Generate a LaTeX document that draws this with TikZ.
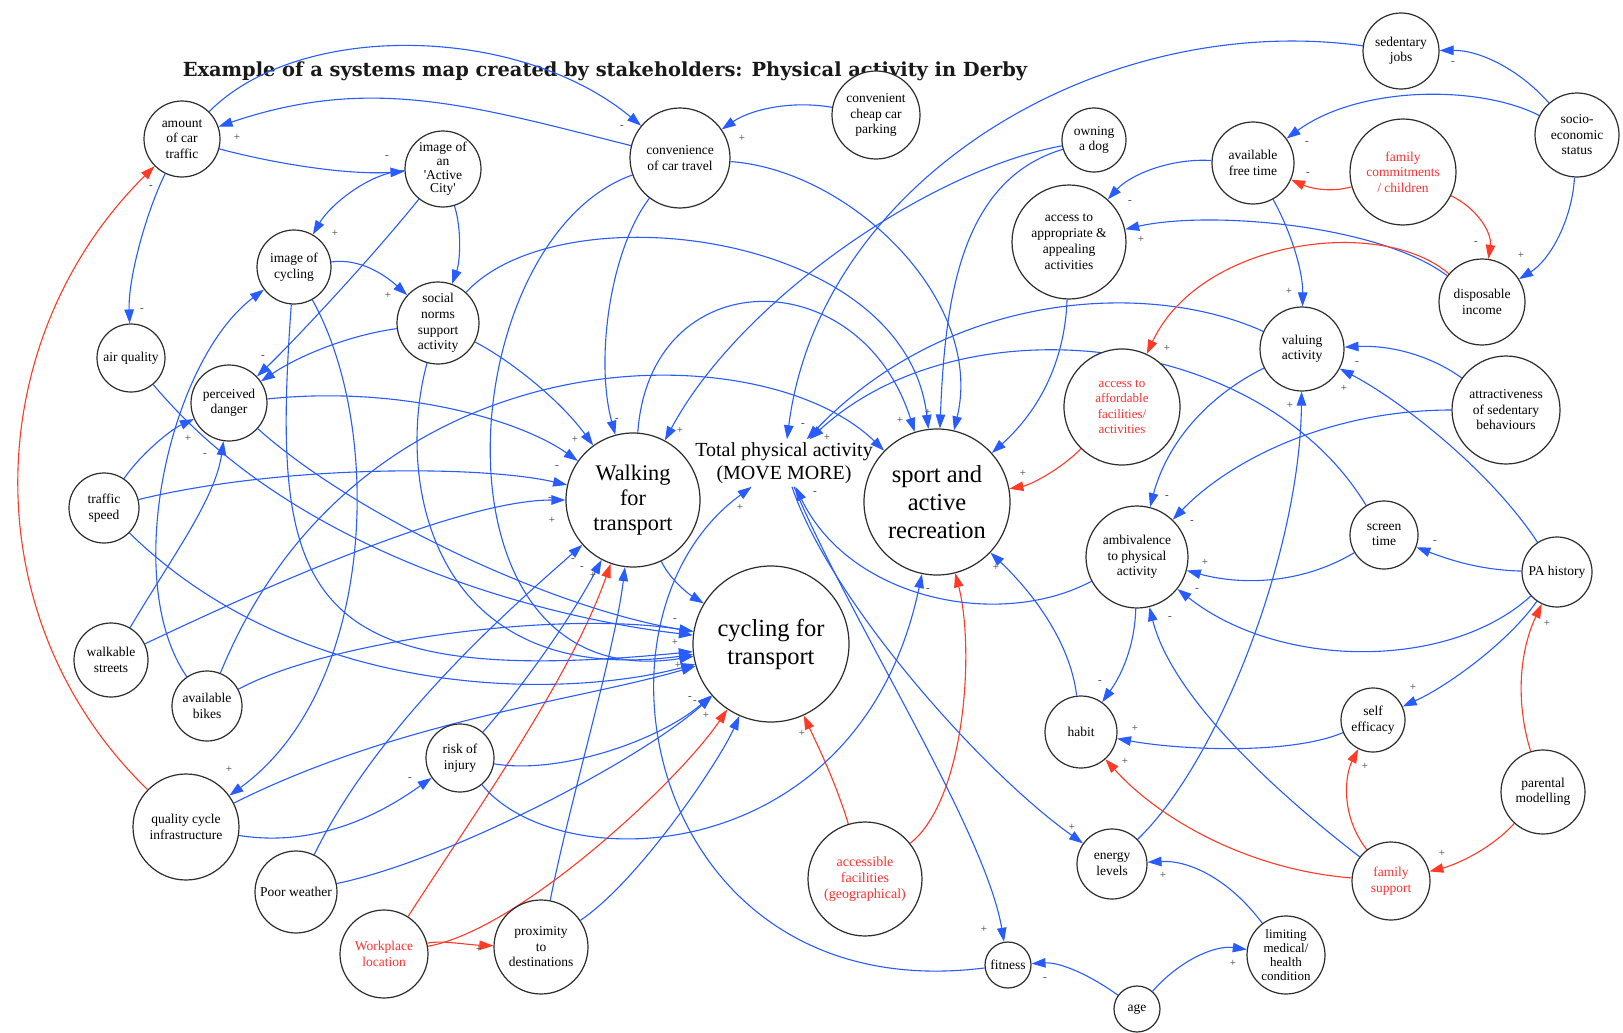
\documentclass[tikz,border=0pt]{standalone}
\usepackage{fontspec}
\setmainfont{Liberation Serif}
\newfontfamily\ttlfont{DejaVu Serif}
\usetikzlibrary{arrows.meta}
\definecolor{lnblue}{RGB}{40,92,255}
\definecolor{lnred}{RGB}{255,58,38}
\definecolor{txred}{RGB}{255,48,48}
\definecolor{ring}{RGB}{45,45,45}
\definecolor{labgray}{RGB}{60,60,60}
\pgfdeclarelayer{back}
\pgfdeclarelayer{links}
\pgfsetlayers{back,links,main}
\begin{document}
\begin{tikzpicture}[x=1pt,y=-1pt,
  cn/.style={circle,draw=ring,line width=1.2pt,fill=white,align=center,inner sep=0pt,
    minimum size=#1pt,font=\fontsize{13.5}{15.5}\selectfont},
  bigtxt/.style={font=\fontsize{24.5}{28}\selectfont},
  total/.style={align=center,inner sep=3pt,font=\fontsize{20}{23}\selectfont},
  eb/.style={draw=lnblue,line width=1.1pt,-{Triangle[length=14pt,width=9.5pt]}},
  er/.style={draw=lnred,line width=1.1pt,-{Triangle[length=14pt,width=9.5pt]}},
  lb/.style={font=\fontsize{11}{11}\selectfont,text=labgray,inner sep=0pt}]
\useasboundingbox (0,0) rectangle (1623,1033);

\begin{pgfonlayer}{back}
\fill[white] (0,0) rectangle (1623,1033);
\node[font=\ttlfont\fontsize{19.4}{24}\selectfont\bfseries,text={rgb,255:red,25;green,25;blue,25}] (title) at (605,71)
  {Example of a systems map created by stakeholders: Physical activity in Derby};
\end{pgfonlayer}

% ---------- variables ----------
\node[cn=76] (amount) at (182,139) {amount\\of car\\traffic};
\node[cn=76,font=\fontsize{13.5}{13.7}\selectfont] (active) at (443,169) {image of\\an\\{\textquotesingle}Active\\City{\textquotesingle}};
\node[cn=100] (conv) at (680,158) {convenience\\of car travel};
\node[cn=88] (parking) at (876,115) {convenient\\cheap car\\parking};
\node[cn=64] (dog) at (1094,140) {owning\\a dog};
\node[cn=114,font=\fontsize{13.5}{15.9}\selectfont] (access) at (1069,242) {access to\\appropriate \&\\appealing\\activities};
\node[cn=76] (sedjobs) at (1401,51) {sedentary\\jobs};
\node[cn=84] (socio) at (1577,135) {socio-\\economic\\status};
\node[cn=82] (freetime) at (1253,163) {available\\free time};
\node[cn=106,text=txred] (famcom) at (1403,172) {family\\commitments\\/ children};
\node[cn=86] (income) at (1482,302) {disposable\\income};
\node[cn=84] (valuing) at (1302,349) {valuing\\activity};
\node[cn=108] (attract) at (1506,410) {attractiveness\\of sedentary\\behaviours};
\node[cn=68] (screen) at (1384,535) {screen\\time};
\node[cn=70] (pahist) at (1557,572) {PA history};
\node[cn=146,bigtxt] (sport) at (937,502) {sport and\\active\\recreation};
\node[cn=116,text=txred,font=\fontsize{13}{15.5}\selectfont] (afford) at (1122,407) {access to\\affordable\\facilities/\\activities};
\node[cn=102] (ambiv) at (1137,557) {ambivalence\\to physical\\activity};
\node[cn=134,font=\fontsize{22.3}{25}\selectfont] (walk) at (633,500) {Walking\\for\\transport};
\node[cn=156,bigtxt] (cycle) at (771,644) {cycling for\\transport};
\node[total] (tpa) at (784,463) {Total physical activity\\(MOVE MORE)};
\node[cn=74] (imgcyc) at (294,267) {image of\\cycling};
\node[cn=68] (air) at (131,358) {air quality};
\node[cn=82,font=\fontsize{13.5}{15.8}\selectfont] (social) at (438,323) {social\\norms\\support\\activity};
\node[cn=76] (danger) at (229,403) {perceived\\danger};
\node[cn=70] (tspeed) at (104,508) {traffic\\speed};
\node[cn=74] (walkable) at (111,660) {walkable\\streets};
\node[cn=70] (bikes) at (207,706) {available\\bikes};
\node[cn=106] (qci) at (186,827) {quality cycle\\infrastructure};
\node[cn=82] (weather) at (296,892) {Poor weather};
\node[cn=88,text=txred] (workplace) at (384,954) {Workplace\\location};
\node[cn=68] (risk) at (460,758) {risk of\\injury};
\node[cn=94] (proximity) at (541,947) {proximity\\to\\destinations};
\node[cn=114,text=txred,font=\fontsize{14}{16}\selectfont] (accfac) at (865,879) {accessible\\facilities\\(geographical)};
\node[cn=72] (habit) at (1081,732) {habit};
\node[cn=70] (energy) at (1112,864) {energy\\levels};
\node[cn=46] (fitness) at (1008,965) {fitness};
\node[cn=46] (age) at (1137,1009) {age};
\node[cn=64] (selfeff) at (1373,720) {self\\efficacy};
\node[cn=84] (parental) at (1543,792) {parental\\modelling};
\node[cn=78,text=txred] (famsup) at (1391,881) {family\\support};
\node[cn=78,font=\fontsize{13}{14.3}\selectfont] (limiting) at (1286,955) {limiting\\medical/\\health\\condition};

% ---------- causal links ----------
\begin{pgfonlayer}{links}
% car traffic cluster
\draw[eb] (amount) .. controls (300,20) and (520,25) .. (conv);
\draw[eb] (conv) .. controls (470,105) and (370,75) .. (amount);
\draw[eb] (amount) .. controls (280,165) and (350,175) .. (active);
\draw[eb] (amount) .. controls (145,215) and (128,280) .. (air);
\draw[er] (qci) .. controls (-30,617) and (-20,339) .. (amount);
\draw[eb] (parking) .. controls (790,100) and (750,110) .. (conv);
% image / norms
\draw[eb] (active) .. controls (370,172) and (330,205) .. (imgcyc);
\draw[eb] (active) .. controls (462,230) and (460,262) .. (social);
\draw[eb] (active) .. controls (370,260) and (290,345) .. (danger);
\draw[eb] (social) .. controls (350,335) and (300,355) .. (danger);
\draw[eb] (imgcyc) .. controls (360,258) and (385,275) .. (social);
\draw[eb] (bikes) .. controls (120,580) and (170,360) .. (imgcyc);
\draw[eb] (imgcyc) .. controls (385,430) and (375,690) .. (qci);
\draw[eb] (tspeed) .. controls (140,455) and (170,430) .. (danger);
\draw[eb] (walkable) .. controls (170,560) and (215,500) .. (danger);
\draw[eb] (qci) .. controls (330,850) and (400,800) .. (risk);
% into walking for transport
\draw[eb] (social) .. controls (510,360) and (560,400) .. (walk);
\draw[eb] (conv) .. controls (610,250) and (595,360) .. (walk);
\draw[eb] (dog) .. controls (930,170) and (740,300) .. (walk);
\draw[eb] (danger) .. controls (400,385) and (520,420) .. (walk);
\draw[eb] (tspeed) .. controls (280,465) and (480,465) .. (walk);
\draw[eb] (walkable) .. controls (300,570) and (470,500) .. (walk);
\draw[eb] (weather) .. controls (380,720) and (520,600) .. (walk);
\draw[eb] (risk) .. controls (520,690) and (570,620) .. (walk);
\draw[er] (workplace) .. controls (470,820) and (570,680) .. (walk);
\draw[eb] (proximity) .. controls (570,800) and (615,650) .. (walk);
% into cycling for transport
\draw[eb] (walk) .. controls (670,580) and (690,595) .. (cycle);
\draw[eb] (air) .. controls (300,560) and (560,620) .. (cycle);
\draw[eb] (danger) .. controls (360,520) and (560,610) .. (cycle);
\draw[eb] (tspeed) .. controls (300,700) and (560,700) .. (cycle);
\draw[eb] (bikes) .. controls (330,640) and (560,610) .. (cycle);
\draw[eb] (imgcyc) .. controls (270,600) and (300,690) .. (cycle);
\draw[eb] (social) .. controls (395,480) and (430,690) .. (cycle);
\draw[eb] (conv) .. controls (450,240) and (420,700) .. (cycle);
\draw[eb] (qci) .. controls (400,720) and (580,700) .. (cycle);
\draw[eb] (risk) .. controls (560,775) and (660,740) .. (cycle);
\draw[eb] (weather) .. controls (450,860) and (640,760) .. (cycle);
\draw[er] (workplace) .. controls (520,930) and (680,780) .. (cycle);
\draw[er] (workplace) .. controls (440,940) and (470,945) .. (proximity);
\draw[eb] (proximity) .. controls (640,880) and (720,760) .. (cycle);
\draw[er] (accfac) .. controls (835,780) and (815,740) .. (cycle);
% into sport and active recreation
\draw[eb] (walk) .. controls (650,260) and (860,260) .. (sport);
\draw[eb] (social) .. controls (560,190) and (905,230) .. (sport);
\draw[eb] (dog) .. controls (960,180) and (945,300) .. (sport);
\draw[eb] (conv) .. controls (850,170) and (985,300) .. (sport);
\draw[eb] (bikes) .. controls (360,330) and (760,330) .. (sport);
\draw[eb] (access) .. controls (1065,360) and (1040,410) .. (sport);
\draw[er] (afford) .. controls (1060,470) and (1030,485) .. (sport);
\draw[eb] (habit) .. controls (1070,640) and (1030,590) .. (sport);
\draw[er] (accfac) .. controls (965,800) and (975,650) .. (sport);
\draw[eb] (risk) .. controls (560,880) and (860,870) .. (sport);
% total physical activity
\draw[eb] (sedjobs) .. controls (1100,10) and (820,180) .. (tpa);
\draw[eb] (valuing) .. controls (1150,280) and (950,290) .. (tpa);
\draw[eb] (screen) .. controls (1260,330) and (960,300) .. (tpa);
\draw[eb] (ambiv) .. controls (1000,630) and (850,600) .. (tpa);
\draw[eb] (fitness) .. controls (650,1010) and (570,620) .. (tpa);
\draw[eb] (tpa) .. controls (830,600) and (980,770) .. (energy);
\draw[eb] (tpa) .. controls (850,620) and (985,830) .. (fitness);
% right-hand cluster
\draw[eb] (socio) .. controls (1520,70) and (1480,50) .. (sedjobs);
\draw[eb] (socio) .. controls (1480,85) and (1360,85) .. (freetime);
\draw[er] (famcom) .. controls (1330,193) and (1310,188) .. (freetime);
\draw[er] (famcom) .. controls (1480,210) and (1492,235) .. (income);
\draw[eb] (socio) .. controls (1572,220) and (1550,260) .. (income);
\draw[eb] (freetime) .. controls (1290,230) and (1303,270) .. (valuing);
\draw[eb] (freetime) .. controls (1170,158) and (1130,175) .. (access);
\draw[eb] (income) .. controls (1380,225) and (1210,210) .. (access);
\draw[er] (income) .. controls (1380,215) and (1200,240) .. (afford);
\draw[eb] (attract) .. controls (1430,355) and (1390,345) .. (valuing);
\draw[eb] (attract) .. controls (1330,410) and (1230,460) .. (ambiv);
\draw[eb] (pahist) .. controls (1490,470) and (1400,400) .. (valuing);
\draw[eb] (pahist) .. controls (1480,570) and (1450,560) .. (screen);
\draw[eb] (pahist) .. controls (1450,670) and (1280,670) .. (ambiv);
\draw[eb] (pahist) .. controls (1510,640) and (1450,685) .. (selfeff);
\draw[eb] (screen) .. controls (1300,585) and (1240,585) .. (ambiv);
\draw[eb] (valuing) .. controls (1200,400) and (1165,450) .. (ambiv);
\draw[eb] (energy) .. controls (1220,760) and (1300,550) .. (valuing);
\draw[eb] (ambiv) .. controls (1135,640) and (1125,670) .. (habit);
\draw[eb] (selfeff) .. controls (1290,755) and (1180,750) .. (habit);
\draw[er] (famsup) .. controls (1250,870) and (1160,820) .. (habit);
\draw[eb] (famsup) .. controls (1260,780) and (1170,690) .. (ambiv);
\draw[er] (famsup) .. controls (1340,815) and (1345,775) .. (selfeff);
\draw[er] (parental) .. controls (1490,850) and (1455,865) .. (famsup);
\draw[er] (parental) .. controls (1515,700) and (1520,650) .. (pahist);
\draw[eb] (limiting) .. controls (1230,880) and (1190,860) .. (energy);
\draw[eb] (age) .. controls (1090,975) and (1060,962) .. (fitness);
\draw[eb] (age) .. controls (1180,960) and (1215,945) .. (limiting);
\end{pgfonlayer}

% ---------- polarity marks ----------
\node[lb] (l1) at (622,127) {-};
\node[lb] (l2) at (742,138) {+};
\node[lb] (l3) at (237,137) {+};
\node[lb] (l4) at (387,157) {-};
\node[lb] (l5) at (151,187) {-};
\node[lb] (l6) at (142,310) {-};
\node[lb] (l7) at (335,233) {+};
\node[lb] (l8) at (388,295) {+};
\node[lb] (l9) at (263,357) {-};
\node[lb] (l10) at (188,438) {+};
\node[lb] (l11) at (205,455) {-};
\node[lb] (l12) at (229,769) {+};
\node[lb] (l13) at (410,779) {-};
\node[lb] (l14) at (479,949) {+};
\node[lb] (l15) at (575,439) {+};
\node[lb] (l16) at (617,420) {-};
\node[lb] (l17) at (680,430) {+};
\node[lb] (l18) at (557,467) {-};
\node[lb] (l19) at (550,499) {-};
\node[lb] (l20) at (552,520) {+};
\node[lb] (l21) at (573,560) {-};
\node[lb] (l22) at (582,568) {-};
\node[lb] (l23) at (593,575) {+};
\node[lb] (l24) at (675,620) {-};
\node[lb] (l25) at (675,642) {+};
\node[lb] (l26) at (678,665) {+};
\node[lb] (l27) at (690,698) {-};
\node[lb] (l28) at (695,702) {-};
\node[lb] (l29) at (706,715) {+};
\node[lb] (l30) at (802,733) {+};
\node[lb] (l31) at (900,420) {+};
\node[lb] (l32) at (928,412) {+};
\node[lb] (l33) at (1023,473) {+};
\node[lb] (l34) at (996,567) {+};
\node[lb] (l35) at (928,590) {-};
\node[lb] (l36) at (803,425) {-};
\node[lb] (l37) at (827,437) {+};
\node[lb] (l38) at (740,507) {+};
\node[lb] (l39) at (815,493) {-};
\node[lb] (l40) at (1072,827) {+};
\node[lb] (l41) at (984,929) {+};
\node[lb] (l42) at (1163,875) {+};
\node[lb] (l43) at (1045,979) {-};
\node[lb] (l44) at (1233,963) {+};
\node[lb] (l45) at (1100,682) {-};
\node[lb] (l46) at (1135,728) {+};
\node[lb] (l47) at (1125,761) {+};
\node[lb] (l48) at (1167,497) {-};
\node[lb] (l49) at (1192,522) {-};
\node[lb] (l50) at (1205,562) {+};
\node[lb] (l51) at (1197,590) {-};
\node[lb] (l52) at (1170,618) {-};
\node[lb] (l53) at (1357,363) {-};
\node[lb] (l54) at (1344,388) {+};
\node[lb] (l55) at (1290,405) {+};
\node[lb] (l56) at (1289,291) {+};
\node[lb] (l57) at (1435,542) {-};
\node[lb] (l58) at (1547,623) {+};
\node[lb] (l59) at (1413,687) {+};
\node[lb] (l60) at (1365,766) {+};
\node[lb] (l61) at (1442,853) {+};
\node[lb] (l62) at (1453,63) {-};
\node[lb] (l63) at (1307,143) {-};
\node[lb] (l64) at (1308,174) {-};
\node[lb] (l65) at (1476,243) {-};
\node[lb] (l66) at (1521,255) {+};
\node[lb] (l67) at (1130,202) {-};
\node[lb] (l68) at (1141,239) {+};
\node[lb] (l69) at (1167,348) {+};
\end{tikzpicture}
\end{document}
